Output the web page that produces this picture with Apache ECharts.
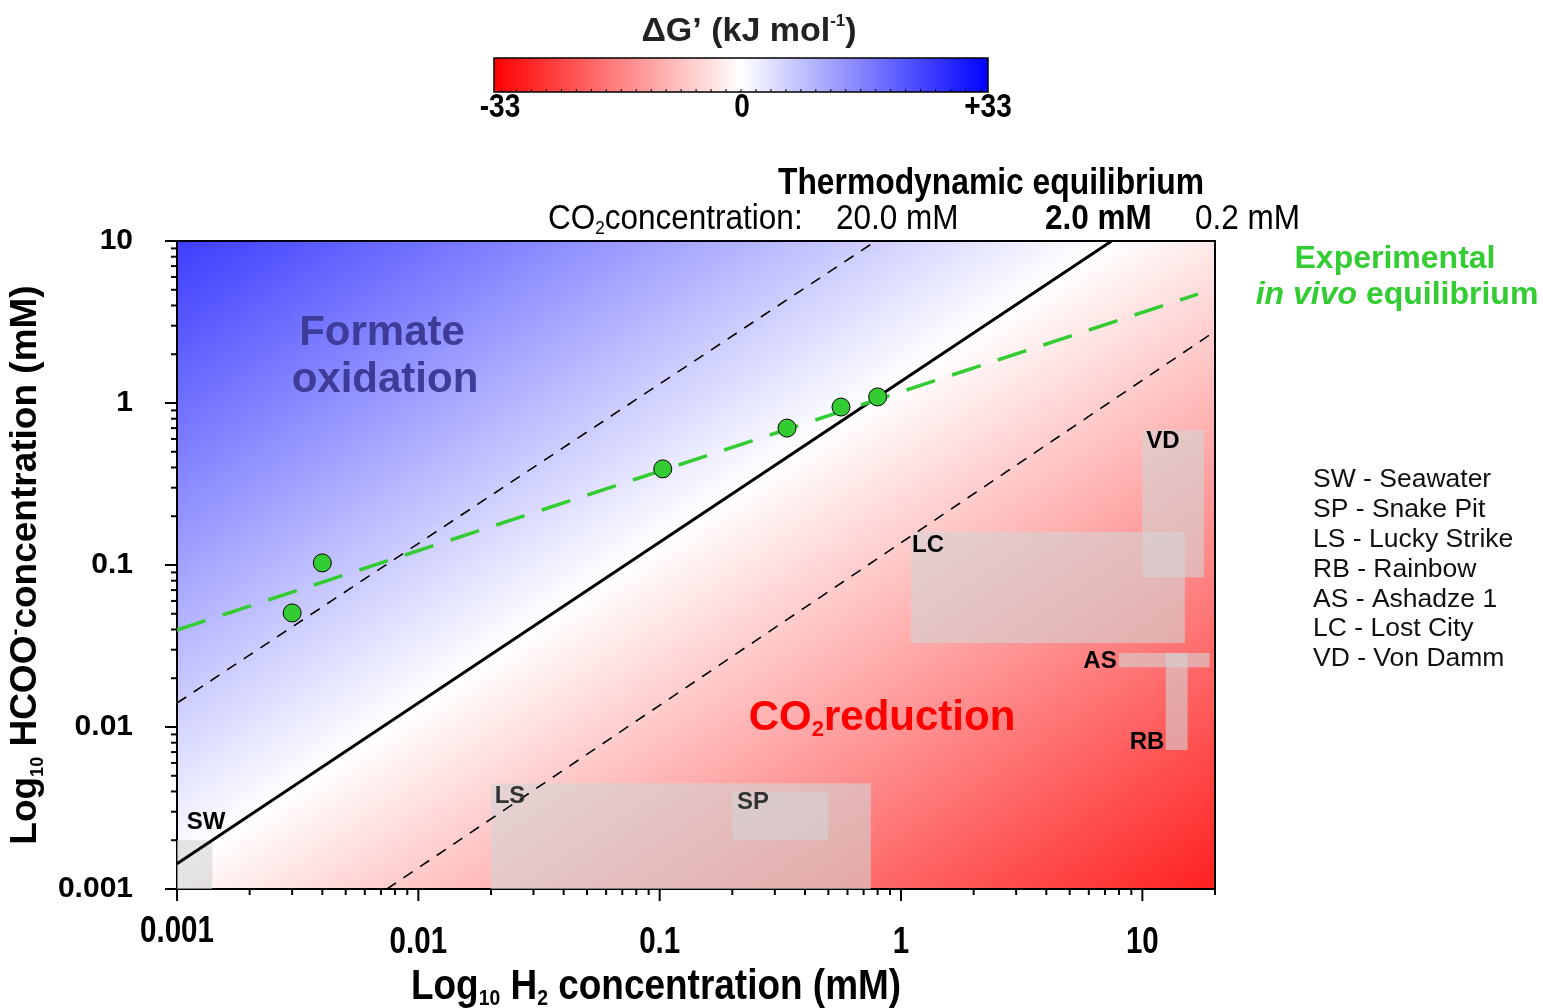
<!DOCTYPE html>
<html><head><meta charset="utf-8">
<script src="https://cdn.jsdelivr.net/npm/echarts@6/dist/echarts.min.js"></script>
<style>html,body{margin:0;padding:0;background:#fff}#c{width:1543px;height:1008px}</style>
</head><body><div id="c"></div>
<script>
// ---------------- data ----------------
const xTickValues = [0.001, 0.01, 0.1, 1, 10];
const xTickLabels = ['0.001', '0.01', '0.1', '1', '10'];
const yTickValues = [0.001, 0.01, 0.1, 1, 10];
const yTickLabels = ['0.001', '0.01', '0.1', '1', '10'];
const xRange = [0.001, 20];
const yRange = [0.001, 10];

// measured in vivo points (H2 mM, formate mM)
const h2Measured = [0.003, 0.004, 0.103, 0.337, 0.564, 0.80];
const formateMeasured = [0.0506, 0.103, 0.392, 0.70, 0.944, 1.09];
// experimental in vivo equilibrium fit (end points)
const fitH2 = [0.001, 17];
const fitFormate = [0.0397, 4.7];

// thermodynamic equilibrium lines for CO2 = 20.0, 2.0, 0.2 mM (end points)
const co2Labels = ['20.0 mM', '2.0 mM', '0.2 mM'];
const eq20H2 = [0.001, 0.787];
const eq20Formate = [0.01406, 10];
const eq2H2 = [0.001, 7.46];
const eq2Formate = [0.00143, 10];
const eq02H2 = [0.00741, 19.0];
const eq02Formate = [0.001, 2.63];

// background field: formate/H2 ratio where dG' = 0 at 2 mM CO2, and kJ per decade
const zeroRatio = 1.38;
const kJPerDecade = 6.5;
const dGScale = [-33, 0, 33];
const dGLabels = ['-33', '0', '+33'];

// vent sites
const siteCodes = ['SW', 'SP', 'LS', 'RB', 'AS', 'LC', 'VD'];
const siteNames = ['Seawater', 'Snake Pit', 'Lucky Strike', 'Rainbow', 'Ashadze 1', 'Lost City', 'Von Damm'];
const siteH2Min = [0.001, 0.2, 0.02, 12.5, 8, 1.1, 10];
const siteH2Max = [0.0014, 0.5, 0.75, 15.4, 19, 15, 18];
const siteFormateMin = [0.001, 0.002, 0.001, 0.0072, 0.0234, 0.033, 0.084];
const siteFormateMax = [0.002, 0.004, 0.0045, 0.0286, 0.0286, 0.16, 0.68];

// ---------------- helpers ----------------
const ARIAL = "'Liberation Sans',Arial,Helvetica,sans-serif";

function dgColor(dg) {
  let t = Math.max(-1, Math.min(1, dg / dGScale[2]));
  if (t >= 0) { const c = Math.round(255 * (1 - t)); return 'rgb(' + c + ',' + c + ',255)'; }
  const c = Math.round(255 * (1 + t)); return 'rgb(255,' + c + ',' + c + ')';
}
function isDecade(v) { const l = Math.log10(v); return Math.abs(l - Math.round(l)) < 1e-6; }
function tickIndex(v, vals) { const l = Math.log10(v); return vals.findIndex(t => Math.abs(Math.log10(t) - l) < 1e-6); }

function minorTicks(range) {
  const out = [];
  for (let e = Math.floor(Math.log10(range[0])); e <= Math.ceil(Math.log10(range[1])); e++) {
    for (let m = 1; m <= 9; m++) {
      const v = m * Math.pow(10, e);
      if (v >= range[0] * 0.999 && v <= range[1] * 1.001) out.push(v);
    }
  }
  return out;
}
const xTicksAll = minorTicks(xRange);
const yTicksAll = minorTicks(yRange);

const chart = echarts.init(document.getElementById('c'), null, { renderer: 'canvas' });

const option = {
  animation: false,
  backgroundColor: '#fff',
  grid: { left: 177, right: 328, top: 241, bottom: 119, show: true, borderColor: '#000', borderWidth: 2,
    backgroundColor: 'transparent', z: 0, containLabel: false, outerBoundsMode: 'none' },
  xAxis: {
    type: 'log', logBase: 10, min: xRange[0], max: xRange[1],
    axisLine: { show: true, lineStyle: { color: '#000', width: 2 } },
    axisTick: { show: false }, splitLine: { show: false }, minorTick: { show: false },
    axisLabel: { show: false }
  },
  yAxis: {
    type: 'log', logBase: 10, min: yRange[0], max: yRange[1],
    axisLine: { show: true, lineStyle: { color: '#000', width: 2 } },
    axisTick: { show: false }, splitLine: { show: false }, minorTick: { show: false },
    axisLabel: {
      margin: 44, color: '#000', fontSize: 30, fontWeight: 'bold', fontFamily: ARIAL,
      formatter: v => { if (!isDecade(v)) return ''; const i = tickIndex(v, yTickValues); return i < 0 ? '' : yTickLabels[i]; }
    },
    name: '{b|Log}{s|10}{b| HCOO}{p|-}{b|concentration (mM)}',
    nameLocation: 'middle', nameGap: 120,
    nameTextStyle: {
      rich: {
        b: { fontSize: 37, fontWeight: 'bold', fontFamily: ARIAL, lineHeight: 42, color: '#000' },
        s: { fontSize: 18, fontWeight: 'bold', fontFamily: ARIAL, lineHeight: 18, verticalAlign: 'bottom', color: '#000' },
        p: { fontSize: 21, fontWeight: 'bold', fontFamily: ARIAL, lineHeight: 21, verticalAlign: 'top', color: '#000' }
      }
    }
  },
  series: [
    { // dG' background field
      type: 'custom', silent: true, z: -1,
      data: [[xRange[0], yRange[0]]],
      renderItem: (params, api) => {
        const tl = api.coord([xRange[0], yRange[1]]);
        const br = api.coord([xRange[1], yRange[0]]);
        const o = api.coord([1, 1]), ox = api.coord([10, 1]), oy = api.coord([1, 10]);
        const sx = ox[0] - o[0], sy = o[1] - oy[1];
        let nx = 1 / sx, ny = 1 / sy; const nl = Math.hypot(nx, ny); nx /= nl; ny /= nl;
        const t = (br[0] - tl[0]) * nx + (br[1] - tl[1]) * ny;
        const uTL = Math.log10(yRange[1]) - Math.log10(xRange[0]);
        const uBR = Math.log10(yRange[0]) - Math.log10(xRange[1]);
        const u0 = Math.log10(zeroRatio);
        const dg = u => kJPerDecade * (u - u0);
        return {
          type: 'rect',
          shape: { x: tl[0], y: tl[1], width: br[0] - tl[0], height: br[1] - tl[1] },
          style: { fill: { type: 'linear', x: tl[0], y: tl[1], x2: tl[0] + nx * t, y2: tl[1] + ny * t, global: true,
            colorStops: [
              { offset: 0, color: dgColor(dg(uTL)) },
              { offset: (uTL - u0) / (uTL - uBR), color: '#ffffff' },
              { offset: 1, color: dgColor(dg(uBR)) }
            ] } }
        };
      }
    },
    { // vent site ranges
      type: 'custom', silent: true, z: 2,
      encode: { x: [0, 1], y: [2, 3] },
      data: siteCodes.map((c, i) => [siteH2Min[i], siteH2Max[i], siteFormateMin[i], siteFormateMax[i]]),
      renderItem: (params, api) => {
        const p1 = api.coord([api.value(0), api.value(3)]);
        const p2 = api.coord([api.value(1), api.value(2)]);
        return { type: 'rect', shape: { x: p1[0], y: p1[1], width: p2[0] - p1[0], height: p2[1] - p1[1] },
          style: { fill: 'rgba(212,212,212,0.6)' } };
      }
    },
    { type: 'line', name: co2Labels[0], data: eq20H2.map((x, i) => [x, eq20Formate[i]]), symbol: 'none', silent: true, z: 3,
      lineStyle: { color: '#000', width: 1.6, type: [11, 9] } },
    { type: 'line', name: co2Labels[1], data: eq2H2.map((x, i) => [x, eq2Formate[i]]), symbol: 'none', silent: true, z: 3,
      lineStyle: { color: '#000', width: 3 } },
    { type: 'line', name: co2Labels[2], data: eq02H2.map((x, i) => [x, eq02Formate[i]]), symbol: 'none', silent: true, z: 3,
      lineStyle: { color: '#000', width: 1.6, type: [11, 9] } },
    { type: 'line', name: 'fit', data: fitH2.map((x, i) => [x, fitFormate[i]]), symbol: 'none', silent: true, z: 4,
      lineStyle: { color: '#33cc33', width: 3.5, type: [30, 18] } },
    { type: 'scatter', data: h2Measured.map((x, i) => [x, formateMeasured[i]]), symbol: 'circle', symbolSize: 18, z: 5,
      itemStyle: { color: '#33cc33', borderColor: '#000', borderWidth: 1, opacity: 1 } },
    { // x ticks
      type: 'custom', silent: true, z: 6,
      data: xTicksAll.map(v => [v, yRange[0]]),
      renderItem: (params, api) => {
        const v = api.value(0); const p = api.coord([v, yRange[0]]); const len = isDecade(v) ? 12 : 6;
        return { type: 'line', shape: { x1: p[0], y1: p[1], x2: p[0], y2: p[1] + len }, style: { stroke: '#000', lineWidth: 2 } };
      }
    },
    { // y ticks
      type: 'custom', silent: true, z: 6,
      data: yTicksAll.map(v => [xRange[0], v]),
      renderItem: (params, api) => {
        const v = api.value(1); const p = api.coord([xRange[0], v]); const len = isDecade(v) ? 12 : 6;
        return { type: 'line', shape: { x1: p[0], y1: p[1], x2: p[0] - len, y2: p[1] }, style: { stroke: '#000', lineWidth: 2 } };
      }
    },
    { // x tick labels (condensed bold)
      type: 'custom', silent: true, z: 6,
      data: xTickValues.map(v => [v, yRange[0]]),
      renderItem: (params, api) => {
        const i = params.dataIndex; const p = api.coord([api.value(0), yRange[0]]);
        return { type: 'text', x: p[0], y: p[1] + (i === 0 ? 43 : 54), scaleX: 0.82,
          style: { text: xTickLabels[i], font: 'bold 36px ' + ARIAL, fill: '#000', textAlign: 'center', textVerticalAlign: 'middle' } };
      }
    }
  ],
  graphic: []
};

// ---------------- annotation graphics ----------------
const g = [];
function txt(x, y, text, font, fill, align, sx) {
  g.push({ type: 'text', x: x, y: y, z: 100, silent: true, scaleX: sx || 1,
    style: { text: text, font: font, fill: fill || '#000', textAlign: align || 'center', textVerticalAlign: 'middle' } });
}
function rich(x, y, text, richStyle, align, sx) {
  g.push({ type: 'text', x: x, y: y, z: 100, silent: true, scaleX: sx || 1,
    style: { text: text, textAlign: align || 'center', textVerticalAlign: 'middle', rich: richStyle } });
}
// colour bar
const cbX = 494, cbY = 58, cbW = 494, cbH = 34;
g.push({ type: 'rect', z: 100, silent: true, shape: { x: cbX, y: cbY, width: cbW, height: cbH },
  style: { fill: { type: 'linear', x: 0, y: 0, x2: 1, y2: 0, colorStops: [
    { offset: 0, color: dgColor(dGScale[0]) }, { offset: 0.5, color: dgColor(dGScale[1]) }, { offset: 1, color: dgColor(dGScale[2]) }] },
    stroke: '#000', lineWidth: 1.5 } });
for (let k = -32; k <= 32; k += 2) {
  const px = cbX + (k - dGScale[0]) / (dGScale[2] - dGScale[0]) * cbW;
  g.push({ type: 'line', z: 101, silent: true, shape: { x1: px, y1: cbY + cbH, x2: px, y2: cbY + cbH - 3 }, style: { stroke: '#000', lineWidth: 1 } });
}
rich(749, 32, '{b|ΔG’ (kJ mol}{p|-1}{b|)}',
  { b: { font: "bold 34px " + ARIAL, fill: '#222', lineHeight: 38 }, p: { font: "bold 17px " + ARIAL, fill: '#222', lineHeight: 17, verticalAlign: 'top' } });
txt(500, 108, dGLabels[0], "bold 33px " + ARIAL, '#000', 'center', 0.85);
txt(742, 108, dGLabels[1], "bold 33px " + ARIAL, '#000', 'center', 0.85);
txt(988, 108, dGLabels[2], "bold 33px " + ARIAL, '#000', 'center', 0.85);

// thermodynamic equilibrium header
txt(991, 184, 'Thermodynamic equilibrium', "bold 37px " + ARIAL, '#000', 'center', 0.86);
rich(548, 219, '{r|CO}{s|2}{r|concentration:}',
  { r: { font: "35px " + ARIAL, fill: '#000', lineHeight: 38 }, s: { font: "19px " + ARIAL, fill: '#000', lineHeight: 19, verticalAlign: 'bottom' } }, 'left', 0.9);
txt(836, 219, co2Labels[0], "35px " + ARIAL, '#000', 'left', 0.9);
txt(1045, 219, co2Labels[1], "bold 35px " + ARIAL, '#000', 'left', 0.9);
txt(1195, 219, co2Labels[2], "35px " + ARIAL, '#000', 'left', 0.9);

// x axis title (condensed bold)
rich(656, 987, '{b|Log}{s|10}{b| H}{s|2}{b| concentration (mM)}',
  { b: { font: "bold 42px " + ARIAL, fill: '#000', lineHeight: 46 }, s: { font: "bold 22px " + ARIAL, fill: '#000', lineHeight: 22, verticalAlign: 'bottom' } }, 'center', 0.88);

// experimental in vivo equilibrium
txt(1395, 259, 'Experimental', "bold 32px " + ARIAL, '#33cc33');
rich(1397, 295, '{i|in vivo }{b|equilibrium}',
  { i: { font: "italic bold 32px " + ARIAL, fill: '#33cc33' }, b: { font: "bold 32px " + ARIAL, fill: '#33cc33' } });

// legend of sites
siteCodes.forEach((c, i) => txt(1313, 480 + i * 29.8, c + ' - ' + siteNames[i], "26.5px " + ARIAL, '#111', 'left'));

// region labels
txt(382, 333, 'Formate', "bold 42px " + ARIAL, '#3d3d99');
txt(385, 380, 'oxidation', "bold 42px " + ARIAL, '#3d3d99');
rich(882, 718, '{b|CO}{s|2}{b|reduction}',
  { b: { font: "bold 42px " + ARIAL, fill: '#ff0000', lineHeight: 46 }, s: { font: "bold 22px " + ARIAL, fill: '#ff0000', lineHeight: 22, verticalAlign: 'bottom' } });

// site code labels
const siteLabelPx = { SW: [206, 822], LS: [510, 796], SP: [753, 802], LC: [928, 545], VD: [1163, 441], AS: [1100, 661], RB: [1147, 742] };
siteCodes.forEach(c => {
  const p = siteLabelPx[c];
  txt(p[0], p[1], c, "bold 24px " + ARIAL, (c === 'LS' || c === 'SP') ? '#333' : '#000');
});

option.graphic = g;
chart.setOption(option);
</script>
</body></html>
